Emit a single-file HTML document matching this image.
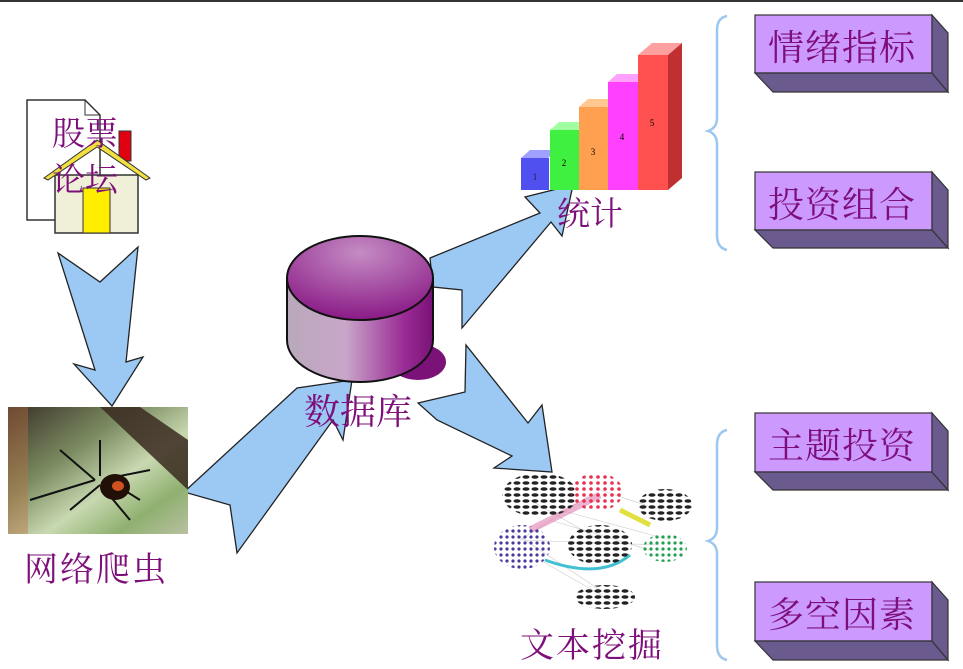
<!DOCTYPE html>
<html><head><meta charset="utf-8"><style>
body{margin:0;background:#fff;width:963px;height:669px;overflow:hidden;position:relative;font-family:"Liberation Sans","Noto Sans CJK SC",sans-serif}
.t{position:absolute;color:#7e0f7a;white-space:nowrap;font-family:"Liberation Serif","Noto Serif CJK SC",serif}
</style></head><body>
<svg width="963" height="669" style="position:absolute;left:0;top:0">
<defs>
<linearGradient id="cyl" x1="0" x2="1" y1="0" y2="0"><stop offset="0" stop-color="#b9a8bb"/><stop offset="0.4" stop-color="#c9a6c9"/><stop offset="0.8" stop-color="#9a2c96"/><stop offset="1" stop-color="#7a1277"/></linearGradient>
<radialGradient id="cyltop" cx="0.5" cy="0.2" r="0.8"><stop offset="0" stop-color="#c58cc4"/><stop offset="1" stop-color="#8a1a86"/></radialGradient>
<linearGradient id="sp" x1="0" y1="0" x2="1" y2="1"><stop offset="0" stop-color="#3a3028"/><stop offset="0.35" stop-color="#7a8a60"/><stop offset="0.6" stop-color="#c8d8b0"/><stop offset="0.8" stop-color="#8fb070"/><stop offset="1" stop-color="#b8c0a0"/></linearGradient>
<pattern id="pk" width="9" height="6" patternUnits="userSpaceOnUse"><ellipse cx="4" cy="3" rx="3.5" ry="1.8" fill="#222"/></pattern>
<pattern id="pr" width="7" height="6" patternUnits="userSpaceOnUse"><circle cx="3" cy="3" r="1.8" fill="#e83050"/></pattern>
<pattern id="pb" width="6" height="6" patternUnits="userSpaceOnUse"><circle cx="3" cy="3" r="1.6" fill="#4a3aa0"/></pattern>
<pattern id="pg" width="6" height="6" patternUnits="userSpaceOnUse"><circle cx="3" cy="3" r="1.6" fill="#20a050"/></pattern>
</defs>
<rect x="0" y="0" width="963" height="2" fill="#333"/>
<path d="M27 100 H85 L100 115 V220 H27 Z" fill="#fff" stroke="#333" stroke-width="1.5"/>
<path d="M85 100 V115 H100" fill="none" stroke="#333"/>
<rect x="119" y="131" width="12" height="30" fill="#e00010" stroke="#333"/>
<rect x="55" y="175" width="83" height="58" fill="#f0f0d8" stroke="#333" stroke-width="1.5"/>
<rect x="83" y="188" width="27" height="45" fill="#ffee00" stroke="#333"/>
<path d="M44 178 L97 140 L150 178 L146 180 L97 147 L48 180Z" fill="#f0e040" stroke="#333"/>
<g fill="#9cc8f4" stroke="#222" stroke-width="1.3">
<path d="M58 253 L100 282 L138 247 L126 362 L143 357 L112 406 L74 364 L95 370 Z"/>
<path d="M184 492 L297 388 L352 380 L343 440 L333 420 L237 553 L230 505 Z"/>
<path d="M430 258 L540 213 L525 197 L573 185 L562 236 L551 222 L462 328 L462 290 L433 287 Z"/>
<path d="M418 403 L465 392 L466 345 L528 423 L542 405 L552 472 L494 468 L512 456 L437 420 Z"/>
</g>
<rect x="8" y="407" width="180" height="127" fill="url(#sp)"/>
<path d="M100 407 L188 490 L188 440 L140 407Z" fill="#3a2a20" opacity=".85"/>
<rect x="8" y="407" width="20" height="127" fill="#c07040" opacity=".4"/>
<g stroke="#111" stroke-width="2" fill="none"><path d="M95 480 L60 450 M95 480 L30 500 M100 485 L70 510 M105 490 L130 520 M108 480 L140 500 M100 476 L100 440 M110 478 L150 470"/></g>
<ellipse cx="115" cy="487" rx="15" ry="13" fill="#201008"/><ellipse cx="118" cy="486" rx="6" ry="5" fill="#d05020"/>
<ellipse cx="418" cy="362" rx="28" ry="18" fill="#7a1277"/>
<path d="M287 278 V340 A73 42 0 0 0 433 340 V278 Z" fill="url(#cyl)" stroke="#111" stroke-width="2"/>
<ellipse cx="360" cy="278" rx="73" ry="42" fill="url(#cyltop)" stroke="#111" stroke-width="2"/>
<path d="M521 158 L530 150 L557 150 L548 158Z" fill="#a0a0ff"/><rect x="521" y="158" width="28" height="32" fill="#5050f0"/>
<path d="M550 130 L559 122 L587 122 L578 130Z" fill="#a0ffa0"/><rect x="550" y="130" width="29" height="60" fill="#40f040"/>
<path d="M579 107 L588 99 L616 99 L607 107Z" fill="#ffc890"/><rect x="579" y="107" width="29" height="83" fill="#ffa050"/>
<path d="M608 82 L617 74 L646 74 L637 82Z" fill="#ffa0ff"/><rect x="608" y="82" width="30" height="108" fill="#ff40ff"/>
<path d="M638 55 L652 43 L682 43 L668 55Z" fill="#ffa0a0"/><rect x="638" y="55" width="30" height="135" fill="#ff5050"/>
<path d="M668 55 L682 43 V178 L668 190Z" fill="#c03030"/>
<g font-size="9" font-family="Liberation Serif" text-anchor="middle"><text x="535" y="180" fill="#222">1</text><text x="564" y="166">2</text><text x="593" y="155">3</text><text x="622" y="140">4</text><text x="652" y="126">5</text></g>
<g>
<g stroke="#ccc" stroke-width=".6"><path d="M530 500 L600 540 M520 540 L660 545 M540 560 L610 600 M600 490 L660 510 M520 540 L590 495 M550 520 L650 550 M510 530 L600 590 M560 510 L670 540"/></g>
<path d="M530 530 Q580 505 600 495" stroke="#e080b0" stroke-width="7" fill="none" opacity=".6"/>
<path d="M545 560 Q600 580 630 555" stroke="#40c0d0" stroke-width="3" fill="none"/>
<path d="M620 510 Q640 520 650 525" stroke="#e0e040" stroke-width="5" fill="none"/>
<ellipse cx="540" cy="495" rx="38" ry="22" fill="url(#pk)"/>
<ellipse cx="600" cy="545" rx="32" ry="20" fill="url(#pk)"/>
<ellipse cx="665" cy="505" rx="27" ry="16" fill="url(#pk)"/>
<ellipse cx="605" cy="597" rx="30" ry="12" fill="url(#pk)"/>
<ellipse cx="597" cy="492" rx="26" ry="19" fill="url(#pr)"/>
<ellipse cx="522" cy="547" rx="28" ry="22" fill="url(#pb)"/>
<ellipse cx="665" cy="548" rx="22" ry="14" fill="url(#pg)"/>
</g>
<g fill="none" stroke="#9cc8f0" stroke-width="2.5">
<path d="M727 16 Q717 18 717 30 V118 Q717 128 708 131 Q717 134 717 144 V235 Q717 248 727 250"/>
<path d="M727 430 Q717 432 717 445 V528 Q717 538 708 541 Q717 544 717 554 V645 Q717 658 727 660"/>
</g>
<g stroke="#333" stroke-width="1.2">
<g><rect x="755" y="15" width="177" height="58" fill="#cc99ff"/><path d="M755 73 L773 92 H948 L932 73Z" fill="#6b5a8e"/><path d="M932 15 L948 33 V92 L932 73Z" fill="#6b5a8e"/></g>
<g><rect x="755" y="172" width="177" height="58" fill="#cc99ff"/><path d="M755 230 L773 248 H948 L932 230Z" fill="#6b5a8e"/><path d="M932 172 L948 190 V248 L932 230Z" fill="#6b5a8e"/></g>
<g><rect x="755" y="413" width="177" height="59" fill="#cc99ff"/><path d="M755 472 L773 490 H948 L932 472Z" fill="#6b5a8e"/><path d="M932 413 L948 431 V490 L932 472Z" fill="#6b5a8e"/></g>
<g><rect x="755" y="582" width="177" height="59" fill="#cc99ff"/><path d="M755 641 L773 660 H948 L932 641Z" fill="#6b5a8e"/><path d="M932 582 L948 600 V660 L932 641Z" fill="#6b5a8e"/></g>
</g>
</svg>
<div class="t" style="left:52px;top:108px;font-size:33px">股票</div>
<div class="t" style="left:52px;top:154px;font-size:33px">论坛</div>
<div class="t" style="left:24px;top:542px;font-size:34px;letter-spacing:2px">网络爬虫</div>
<div class="t" style="left:304px;top:384px;font-size:36px">数据库</div>
<div class="t" style="left:557px;top:188px;font-size:33px">统计</div>
<div class="t" style="left:520px;top:618px;font-size:34px;letter-spacing:2px">文本挖掘</div>
<div class="t" style="left:768px;top:20px;font-size:36px;letter-spacing:1px">情绪指标</div>
<div class="t" style="left:768px;top:177px;font-size:36px;letter-spacing:1px">投资组合</div>
<div class="t" style="left:768px;top:418px;font-size:36px;letter-spacing:1px">主题投资</div>
<div class="t" style="left:768px;top:587px;font-size:36px;letter-spacing:1px">多空因素</div>
</body></html>
